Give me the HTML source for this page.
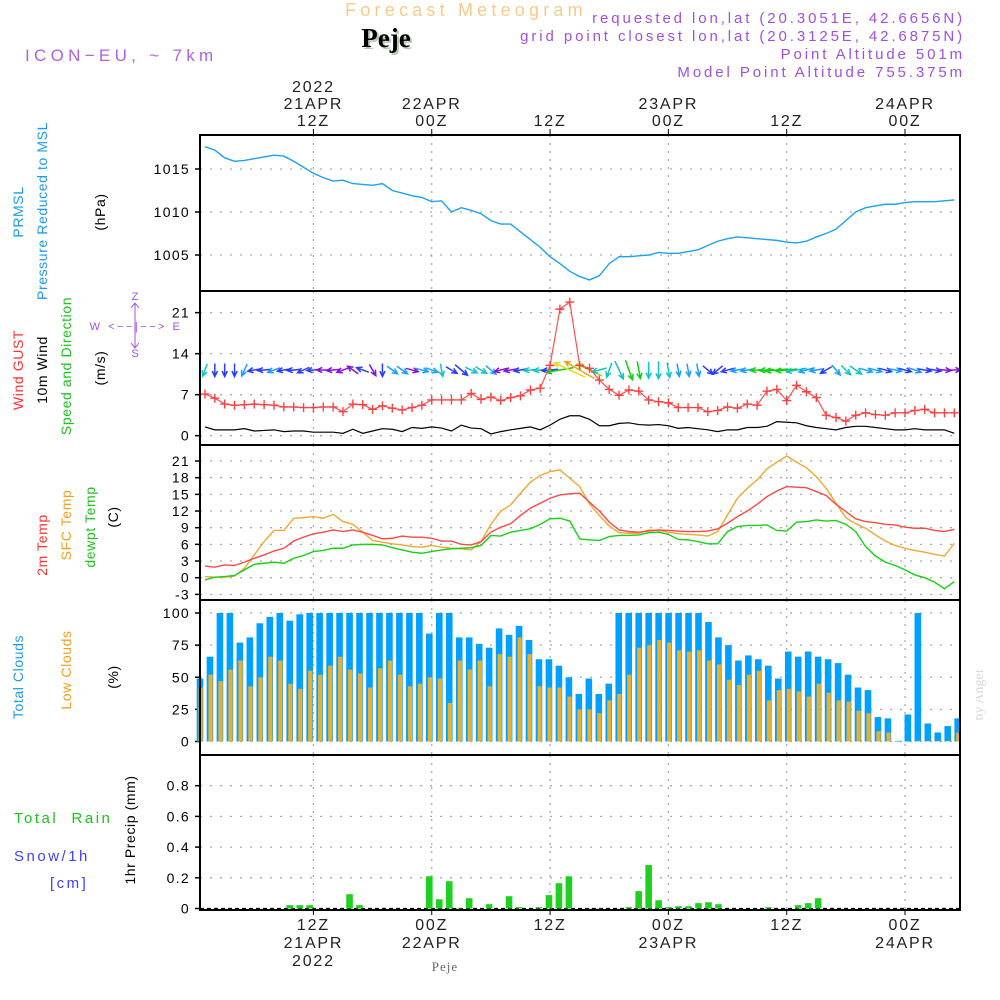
<!DOCTYPE html>
<html><head><meta charset="utf-8"><title>Forecast Meteogram Peje</title>
<style>
html,body{margin:0;padding:0;background:#fff;}
svg{display:block;}
text{font-family:"Liberation Sans",sans-serif;}
.serif{font-family:"Liberation Serif",serif;}
</style></head>
<body>
<svg id="chart" width="1000" height="1000" viewBox="0 0 1000 1000" xmlns="http://www.w3.org/2000/svg">
<rect x="0" y="0" width="1000" height="1000" fill="#fff"/>
<!-- header -->
<text x="466" y="16" text-anchor="middle" font-size="18" letter-spacing="4.2" fill="#f3cc8a">Forecast Meteogram</text>
<text class="serif" x="388" y="49" text-anchor="middle" font-size="27" font-weight="bold" fill="#b8c8b8">Peje</text>
<text class="serif" x="386" y="47" text-anchor="middle" font-size="27" font-weight="bold" fill="#000">Peje</text>
<text x="25" y="61" font-size="17" letter-spacing="4.3" fill="#b060e0">ICON−EU, ~ 7km</text>
<g font-size="15" letter-spacing="2.9" fill="#a050e0" text-anchor="end">
<text x="965" y="23">requested lon,lat (20.3051E, 42.6656N)</text>
<text x="965" y="41">grid point closest lon,lat (20.3125E, 42.6875N)</text>
<text x="965" y="59">Point Altitude 501m</text>
<text x="965" y="77">Model Point Altitude 755.375m</text>
</g>
<!-- left labels -->
<g font-size="14" letter-spacing="0.6">
<text transform="translate(23,212) rotate(-90)" text-anchor="middle" fill="#1e9be8">PRMSL</text>
<text transform="translate(47,211) rotate(-90)" text-anchor="middle" fill="#1e9be8">Pressure Reduced to MSL</text>
<text transform="translate(105,212) rotate(-90)" text-anchor="middle" fill="#000">(hPa)</text>
</g>
<g font-size="14" letter-spacing="0.6">
<text transform="translate(23,370) rotate(-90)" text-anchor="middle" fill="#ff3030">Wind GUST</text>
<text transform="translate(47,370) rotate(-90)" text-anchor="middle" fill="#000">10m Wind</text>
<text transform="translate(71,366) rotate(-90)" text-anchor="middle" fill="#20c020">Speed and Direction</text>
<text transform="translate(105,368) rotate(-90)" text-anchor="middle" fill="#000">(m/s)</text>
</g>
<g fill="#a050e0" font-size="11" text-anchor="middle">
<text x="135" y="300">Z</text>
<text x="136" y="330" letter-spacing="2.5">W &lt;−−|−−&gt; E</text>
<text x="135" y="357">S</text>
<line x1="135" y1="304" x2="135" y2="347" stroke="#a050e0" stroke-width="1"/>
<path d="M131,308L135,303L139,308M131,343L135,348L139,343" stroke="#a050e0" fill="none"/>
</g>
<g font-size="14" letter-spacing="0.6">
<text transform="translate(47,545) rotate(-90)" text-anchor="middle" fill="#ff3030">2m Temp</text>
<text transform="translate(71,525) rotate(-90)" text-anchor="middle" fill="#f0a020">SFC Temp</text>
<text transform="translate(95,527) rotate(-90)" text-anchor="middle" fill="#20c020">dewpt Temp</text>
<text transform="translate(118,517) rotate(-90)" text-anchor="middle" fill="#000">(C)</text>
</g>
<g font-size="14" letter-spacing="0.6">
<text transform="translate(23,677) rotate(-90)" text-anchor="middle" fill="#1e9be8">Total Clouds</text>
<text transform="translate(71,670) rotate(-90)" text-anchor="middle" fill="#f0a020">Low Clouds</text>
<text transform="translate(118,677) rotate(-90)" text-anchor="middle" fill="#000">(%)</text>
</g>
<g font-size="15" letter-spacing="2.5">
<text x="14" y="823" fill="#20c020" xml:space="preserve">Total  Rain</text>
<text x="14" y="861" fill="#4040ff">Snow/1h</text>
<text x="50" y="888" fill="#4040ff">[cm]</text>
<text transform="translate(135,830) rotate(-90)" text-anchor="middle" fill="#000" font-size="14" letter-spacing="0.6">1hr Precip (mm)</text>
</g>
<text class="serif" transform="translate(983,695) rotate(-90)" text-anchor="middle" font-size="14" fill="#d8d8d8">by Angel</text>
<text class="serif" x="445" y="971" text-anchor="middle" font-size="13" fill="#666" letter-spacing="1">Peje</text>
<g id="plot"></g>
</svg>
<script>
// ---- data arrays ----
const hours = [];
for (let h = 1; h <= 77; h++) hours.push(h);
const pressure = [1017.6,1017.2,1016.3,1015.9,1016.0,1016.2,1016.4,1016.6,1016.5,1015.9,1015.2,1014.5,1014.0,1013.6,1013.7,1013.3,1013.2,1013.1,1013.3,1012.5,1012.2,1011.9,1011.7,1011.2,1011.3,1010.0,1010.5,1010.2,1009.8,1009.0,1008.6,1008.6,1007.7,1006.8,1005.9,1004.8,1004.0,1003.1,1002.5,1002.1,
1002.6,1004.0,1004.8,1004.8,1004.9,1005.0,1005.3,1005.2,1005.2,1005.4,1005.6,1006.1,1006.6,1006.9,1007.1,1007.0,1006.9,1006.8,1006.7,1006.5,1006.4,1006.6,1007.1,1007.5,1008.0,1009.0,1010.0,1010.5,1010.7,1010.9,1010.9,1011.1,1011.2,1011.2,1011.2,1011.3,1011.4];
const windGust = [7.1,6.4,5.4,5.2,5.3,5.4,5.3,5.2,4.9,4.9,4.8,4.8,4.9,4.9,4.1,5.4,5.3,4.5,5.1,4.7,4.4,4.8,5.2,6.1,6.1,6.1,6.1,7.2,6.2,6.6,6.0,6.5,6.8,7.8,8.1,12.0,21.6,22.8,12.0,11.5,
9.5,7.9,6.9,7.8,7.6,6.1,5.8,5.6,4.8,4.8,4.8,4.1,4.3,4.9,4.7,5.4,5.2,7.6,7.9,6.0,8.6,7.5,6.5,3.5,3.1,2.5,3.5,3.9,3.6,3.5,3.9,3.9,4.3,4.5,3.9,3.9,3.9];
const windSpeed = [1.5,1.0,1.0,1.0,1.2,0.8,0.9,1.0,0.7,0.8,0.8,0.6,0.6,0.6,0.4,1.1,0.4,0.8,1.2,1.1,0.7,1.4,1.25,1.5,1.3,0.8,1.8,1.3,1.2,0.3,0.7,1.0,1.25,1.5,1.0,1.8,2.8,3.4,3.4,2.8,
1.7,1.7,2.1,2.2,1.9,1.8,1.9,1.7,1.25,1.4,1.2,1.0,0.7,1.0,1.0,1.4,1.4,1.6,2.4,2.3,2.2,1.7,1.4,1.2,1.0,1.4,1.6,1.6,1.4,1.2,1.0,1.0,1.2,1.0,1.0,1.0,0.4];
const windDirAngle = [110,90,90,90,115,170,175,160,170,175,155,175,180,175,160,215,200,60,90,35,35,15,15,20,80,30,40,25,30,40,165,170,170,175,175,175,170,205,210,205,
165,110,65,70,80,90,90,80,80,80,80,40,140,165,170,170,175,175,175,175,170,165,170,150,50,45,35,15,15,15,10,15,20,10,10,5,0];
const windColorClass = ['c','b','b','b','l','b','b','l','b','b','b','b','p','p','p','p','b','p','b','l','l','p','l','l','c','b','b','c','c','l','p','p','b','c','c','b','g','y','o','gy',
'c','c','c','g','g','c','c','c','l','l','l','b','b','b','l','l','g','g','g','g','c','l','l','b','l','c','c','l','l','b','l','b','l','b','b','p','p'];
const temp2m = [2.1,1.9,2.3,2.2,2.8,3.5,4.1,4.8,5.3,6.6,7.3,7.9,8.2,8.6,8.3,8.6,8.2,7.6,7.0,7.1,7.5,7.3,7.3,7.1,6.6,6.6,6.0,5.9,6.5,8.2,9.1,9.7,11.2,12.5,13.4,14.3,14.9,15.1,15.2,13.6,
12.0,10.0,8.6,8.3,8.2,8.4,8.6,8.5,8.4,8.3,8.3,8.4,8.8,9.8,11.0,12.0,13.2,14.6,15.6,16.4,16.3,16.2,15.5,14.8,13.2,11.9,10.6,10.1,9.9,9.6,9.5,9.1,8.9,8.9,8.5,8.3,8.7];
const tempSfc = [0.2,0.1,0.1,0.3,1.7,4.1,6.5,8.5,8.5,10.7,10.8,11.0,10.7,11.4,10.1,9.6,8.2,6.7,6.4,6.1,5.9,5.6,5.5,5.8,5.5,5.3,5.2,5.0,6.5,9.6,12.0,13.1,15.2,17.2,18.4,19.1,19.4,17.9,16.4,13.3,
11.2,9.3,8.1,8.0,8.0,8.6,8.5,8.2,7.9,7.8,7.7,7.5,8.3,11.3,14.3,16.1,17.6,19.6,20.8,21.9,20.8,19.8,18.2,16.1,13.4,10.8,9.7,8.9,7.7,6.6,5.8,5.3,4.9,4.6,4.2,3.9,6.2];
const tempDew = [-0.4,0.1,0.2,0.4,1.4,2.4,2.6,2.8,2.6,3.5,4.0,4.7,4.9,5.3,5.3,5.9,6.0,6.0,5.9,5.4,5.0,4.6,4.4,4.7,5.0,5.2,5.3,5.4,5.8,7.6,7.5,8.2,8.5,8.8,9.6,10.6,10.7,10.2,7.0,6.8,
6.7,7.4,7.6,7.6,7.7,8.1,8.2,7.8,6.9,6.8,6.5,6.1,6.1,8.3,9.2,9.4,9.4,9.5,8.5,8.4,10.0,10.1,10.4,10.2,10.3,9.6,8.3,5.6,3.9,2.8,2.2,1.4,0.5,0.0,-0.8,-2.0,-0.7];
const totalClouds = [49,66,100,100,77,81,92,97,100,94,99,100,100,100,100,100,100,100,100,100,100,100,100,84,100,100,81,81,76,73,88,83,90,79,64,64,59,50,37,49,
37,45,100,100,100,100,100,100,100,100,100,93,81,75,63,67,64,59,49,70,66,70,66,64,61,52,42,40,19,18,0.5,21,100,14,7,12,18];
const lowClouds = [42,52,47,56,63,43,50,66,63,45,41,55,52,59,66,56,53,42,57,63,52,43,45,50,49,30,63,56,63,43,68,66,81,68,43,42,42,35,25,25,
22,32,37,52,73,75,79,77,71,70,71,63,60,48,44,52,55,32,40,41,39,35,45,38,32,31,24,22,8,7,0,0,0.5,0.5,0.5,0.5,7];
const precip = [0,0,0,0,0,0,0,0,0,0.022,0.022,0.022,0,0,0,0.093,0.022,0,0,0,0,0,0,0.21,0.06,0.178,0.004,0.067,0,0.028,0,0.08,0.009,0,0.009,0.087,0.165,0.21,0,0.002,
0.002,0,0,0.009,0.113,0.283,0.054,0.009,0.015,0.015,0.035,0.041,0.028,0,0,0,0,0.009,0,0,0.022,0.035,0.067,0,0,0,0,0,0,0,0,0,0,0,0,0,0];
const pressureTicks = [1005,1010,1015];
const windTicks = [0,7,14,21];
const tempTicks = [-3,0,3,6,9,12,15,18,21];
const cloudTicks = [0,25,50,75,100];
const precipTicks = [0,0.2,0.4,0.6,0.8];
const precipTickLabels = ['0','0.2','0.4','0.6','0.8'];
const timeTickHours = [12,24,36,48,60,72];
const topTimeLabels = [['2022','21APR','12Z'],['22APR','00Z'],['12Z'],['23APR','00Z'],['12Z'],['24APR','00Z']];
const bottomTimeLabels = [['12Z','21APR','2022'],['00Z','22APR'],['12Z'],['00Z','23APR'],['12Z'],['00Z','24APR']];

// ---- scales ----
const X0 = 200, X1 = 960;
const xh = h => 195.1 + h * 9.86;
const xb = k => 200 + k * 9.97;
const yP = v => 169 + (1015 - v) * 8.6;
const yW = v => 435.7 - v * 5.86;
const yT = v => 577.7 - v * 5.556;
const yC = v => 741.5 - v * 1.285;
const yR = v => 908.5 - v * 153.5;
const panels = [
  {name:'pressure', top:135, bot:291, ticks:pressureTicks, y:yP, labels:pressureTicks.map(String)},
  {name:'wind', top:291, bot:445, ticks:windTicks, y:yW, labels:windTicks.map(String)},
  {name:'temp', top:445, bot:600, ticks:tempTicks, y:yT, labels:tempTicks.map(String)},
  {name:'cloud', top:600, bot:755, ticks:cloudTicks, y:yC, labels:cloudTicks.map(String)},
  {name:'precip', top:755, bot:910, ticks:precipTicks, y:yR, labels:precipTickLabels}
];
const windColors = {b:'#2a3cff', l:'#1aa0ff', c:'#12c4c4', p:'#8a10e0', g:'#10d010', y:'#e0e020', o:'#f0a020', gy:'#90e020'};

const NS = 'http://www.w3.org/2000/svg';
const plot = document.getElementById('plot');
function mk(tag, attrs, parent) {
  const e = document.createElementNS(NS, tag);
  for (const k in attrs) e.setAttribute(k, attrs[k]);
  (parent || plot).appendChild(e);
  return e;
}

// grids and axes
panels.forEach(p => {
  const g = mk('g', {});
  
  
  p.ticks.forEach((t, i) => {
    const y = p.y(t);
    if (y > p.top + 2 && y < p.bot - 2) {
      const gl = mk('line', {x1:X0, x2:X1, y1:y, y2:y, stroke:'#aaa', 'stroke-width':1.3, 'stroke-dasharray':'2,8'}, g);
      
      
    }
    mk('line', {x1:X0-5, x2:X0, y1:y, y2:y, stroke:'#000', 'stroke-width':1.5}, g);
    const tl = mk('text', {x:X0-10, y:y+5, 'text-anchor':'end', 'font-size':14, 'letter-spacing':'1.3', fill:'#000'}, g);
    tl.textContent = p.labels[i];
    
    
  });
  timeTickHours.forEach(h => {
    const x = xh(h);
    const vl = mk('line', {x1:x, x2:x, y1:p.top, y2:p.bot, stroke:'#aaa', 'stroke-width':1.3, 'stroke-dasharray':'2,6'}, g);
    
    
  });
});

// time labels
timeTickHours.forEach((h, i) => {
  const x = xh(h);
  mk('line', {x1:x, x2:x, y1:129, y2:135, stroke:'#000', 'stroke-width':1});
  mk('line', {x1:x, x2:x, y1:910, y2:915, stroke:'#000', 'stroke-width':1});
  const top = topTimeLabels[i];
  top.forEach((s, j) => {
    const t = mk('text', {x:x, y:126 - (top.length - 1 - j) * 17, 'text-anchor':'middle', 'font-size':16, 'letter-spacing':'1.8', fill:'#222'});
    t.textContent = s;
    
    
  });
  bottomTimeLabels[i].forEach((s, j) => {
    const t = mk('text', {x:x, y:930 + j * 18, 'text-anchor':'middle', 'font-size':16, 'letter-spacing':'1.8', fill:'#222'});
    t.textContent = s;
    
    
  });
});

// pressure line
const pl = mk('polyline', {fill:'none', stroke:'#1ea0f0', 'stroke-width':1.4, points: pressure.map((v, i) => xh(hours[i]) + ',' + yP(v)).join(' ')});



// wind speed line
const wl = mk('polyline', {fill:'none', stroke:'#000', 'stroke-width':1.2, points: windSpeed.map((v, i) => xh(hours[i]) + ',' + yW(v)).join(' ')});



// wind arrows
windDirAngle.forEach((a, i) => {
  const sp = windSpeed[i];
  const len = Math.min(36, 13 + Math.max(0, sp - 1.5) * 11);
  const r = a * Math.PI / 180;
  const cx = xh(hours[i]), cy = 370;
  const dx = Math.cos(r) * len / 2, dy = Math.sin(r) * len / 2;
  const x1 = cx - dx, y1 = cy - dy, x2 = cx + dx, y2 = cy + dy;
  const hl = 6, ha = 0.45;
  const hx1 = x2 - hl * Math.cos(r - ha), hy1 = y2 - hl * Math.sin(r - ha);
  const hx2 = x2 - hl * Math.cos(r + ha), hy2 = y2 - hl * Math.sin(r + ha);
  const col = windColors[windColorClass[i]];
  const ar = mk('path', {d:`M${x1},${y1}L${x2},${y2}M${hx1},${hy1}L${x2},${y2}L${hx2},${hy2}`, stroke:col, 'stroke-width':1.5, fill:'none'});
  
  
});

// gust line and markers
const gl = mk('polyline', {fill:'none', stroke:'#ff5050', 'stroke-width':1.2, points: windGust.map((v, i) => xh(hours[i]) + ',' + yW(v)).join(' ')});


windGust.forEach((v, i) => {
  const x = xh(hours[i]), y = yW(v);
  const m = mk('path', {d:`M${x-4.5},${y}H${x+4.5}M${x},${y-4.5}V${y+4.5}`, stroke:'#ff4040', 'stroke-width':1.4, fill:'none'});
  
  
});

// temperature lines
[[tempSfc, '#f0a830', 'sfc-temp-line'], [temp2m, '#ff4848', 'temp-2m-line'], [tempDew, '#18d018', 'dewpoint-line']].forEach(([arr, col, nm]) => {
  const l = mk('polyline', {fill:'none', stroke:col, 'stroke-width':1.4, points: arr.map((v, i) => xh(hours[i]) + ',' + yT(v)).join(' ')});
  
  
});

// cloud bars
totalClouds.forEach((v, k) => {
  const x = xb(k);
  const b = mk('rect', {x:x - 3.3, y:yC(v), width:6.6, height:yC(0) - yC(v), fill:'#00a0ff'});
  
  
  const lv = lowClouds[k];
  const b2 = mk('rect', {x:x - 1.5, y:yC(lv), width:4.2, height:yC(0) - yC(lv), fill:'#e8b030'});
  
  
});

// precip bars
mk('line', {x1:X0, x2:X1, y1:yR(0), y2:yR(0), stroke:'#000', 'stroke-width':1.2, 'stroke-dasharray':'4,3'});
precip.forEach((v, k) => {
  if (v <= 0) return;
  const x = xb(k);
  const b = mk('rect', {x:x - 3.3, y:yR(v), width:6.6, height:yR(0) - yR(v), fill:'#20d020'});
  
  
});

// clip overflow on right edge
mk('rect', {x:961, y:130, width:15, height:785, fill:'#fff'});

// frames
panels.forEach(p => {
  const f = mk('rect', {x:X0, y:p.top, width:X1 - X0, height:p.bot - p.top, fill:'none', stroke:'#000', 'stroke-width':2});
  
  
});
</script>
</body></html>
